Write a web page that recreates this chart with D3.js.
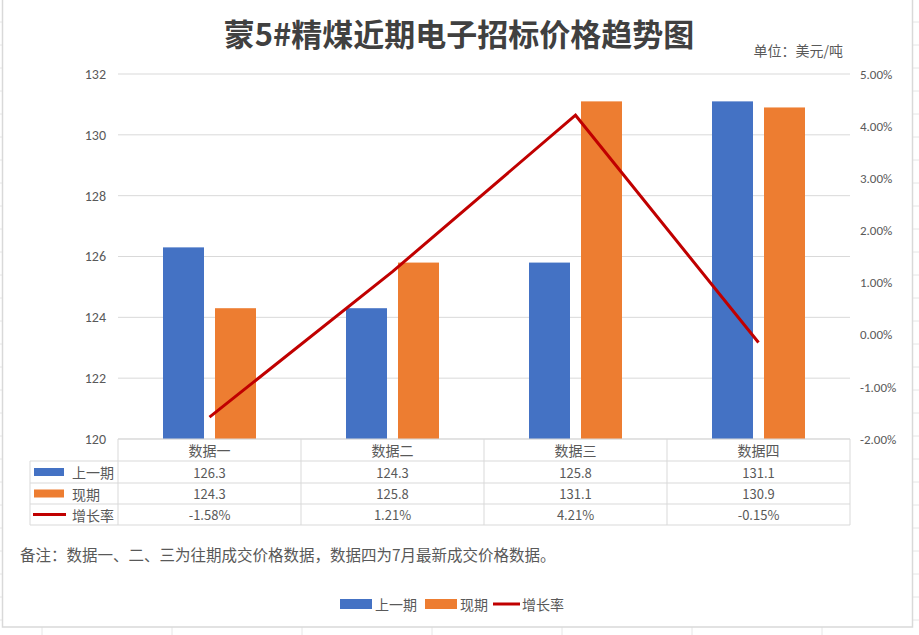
<!DOCTYPE html>
<html>
<head>
<meta charset="utf-8">
<script src="https://cdn.jsdelivr.net/npm/d3@7/dist/d3.min.js"></script>
<style>
  html, body { margin: 0; padding: 0; background: #fff; }
  svg { display: block; font-family: "Noto Sans CJK SC", "Noto Sans", sans-serif; }
</style>
</head>
<body>
<svg id="chart" width="919" height="635"></svg>
<script>
// data
const categories = ["数据一", "数据二", "数据三", "数据四"];
const prevValues = [126.3, 124.3, 125.8, 131.1];
const currValues = [124.3, 125.8, 131.1, 130.9];
const growthRates = [-1.58, 1.21, 4.21, -0.15];
const seriesNames = ["上一期", "现期", "增长率"];
const leftTicks = [120, 122, 124, 126, 128, 130, 132];
const rightTicks = [-2, -1, 0, 1, 2, 3, 4, 5];

const BLUE = "#4472c4", ORANGE = "#ed7d31", RED = "#c00000";
const TEXT = "#595959", GRID = "#d9d9d9";

const svg = d3.select("#chart");
const W = 919, H = 635;

// excel sheet grid behind the chart
const sheet = svg.append("g");
sheet.append("rect").attr("width", W).attr("height", H).attr("fill", "#fff");
for (let x = 42; x < W; x += 130) {
    sheet.append("line").attr("x1", x).attr("x2", x).attr("y1", 627).attr("y2", H)
        .attr("stroke", "#e6e6e6");
}
for (let y = 22; y < H; y += 23) {
    sheet.append("line").attr("x1", 0).attr("x2", 3).attr("y1", y).attr("y2", y).attr("stroke", "#e6e6e6");
    sheet.append("line").attr("x1", 912).attr("x2", W).attr("y1", y).attr("y2", y).attr("stroke", "#e6e6e6");
}
// chart area
svg.append("rect")
    .attr("x", 2.5).attr("y", -1).attr("width", 910).attr("height", 628)
    .attr("fill", "#fff").attr("stroke", "#d9d9d9").attr("stroke-width", 1.5);

// title
svg.append("text")
    .attr("x", 459).attr("y", 46)
    .attr("text-anchor", "middle")
    .attr("font-size", 31).attr("font-weight", "bold")
    .attr("fill", "#404040")
    .text("蒙5#精煤近期电子招标价格趋势图");

svg.append("text")
    .attr("x", 843).attr("y", 56)
    .attr("text-anchor", "end")
    .attr("font-size", 14).attr("fill", TEXT)
    .text("单位：美元/吨");

// plot area
const plot = {left: 118, right: 850, top: 74, bottom: 439};

const x = d3.scaleBand()
    .domain(categories)
    .range([plot.left, plot.right]);

const yL = d3.scaleLinear().domain([120, 132]).range([plot.bottom, plot.top]);
const yR = d3.scaleLinear().domain([-2, 5]).range([plot.bottom, plot.top]);

// gridlines
svg.append("g").selectAll("line")
    .data(leftTicks)
    .join("line")
    .attr("x1", plot.left).attr("x2", plot.right)
    .attr("y1", d => yL(d)).attr("y2", d => yL(d))
    .attr("stroke", GRID).attr("stroke-width", 1);

// left axis labels
const leftAxis = d3.axisLeft(yL).tickValues(leftTicks).tickSize(0).tickPadding(12);
const gL = svg.append("g").attr("transform", `translate(${plot.left},0)`).call(leftAxis);
gL.select(".domain").remove();
gL.selectAll("text").attr("font-size", 14).attr("fill", TEXT)
    .attr("font-family", "Calibri, Carlito, 'Liberation Sans', sans-serif");

// right axis labels
const rightAxis = d3.axisRight(yR).tickValues(rightTicks).tickSize(0).tickPadding(10)
    .tickFormat(d => d.toFixed(2) + "%");
const gR = svg.append("g").attr("transform", `translate(${plot.right},0)`).call(rightAxis);
gR.select(".domain").remove();
gR.selectAll("text").attr("font-size", 13).attr("fill", TEXT)
    .attr("font-family", "Calibri, Carlito, 'Liberation Sans', sans-serif");

// bars
const barW = 41, barGap = 11;
const bars = svg.append("g");
bars.selectAll("rect.prev")
    .data(prevValues)
    .join("rect")
    .attr("class", "prev")
    .attr("x", (d, i) => x(categories[i]) + x.bandwidth() / 2 - barGap / 2 - barW)
    .attr("y", d => yL(d))
    .attr("width", barW)
    .attr("height", d => yL(120) - yL(d))
    .attr("fill", BLUE);
bars.selectAll("rect.curr")
    .data(currValues)
    .join("rect")
    .attr("class", "curr")
    .attr("x", (d, i) => x(categories[i]) + x.bandwidth() / 2 + barGap / 2)
    .attr("y", d => yL(d))
    .attr("width", barW)
    .attr("height", d => yL(120) - yL(d))
    .attr("fill", ORANGE);

// growth line
const line = d3.line()
    .x((d, i) => x(categories[i]) + x.bandwidth() / 2)
    .y(d => yR(d));
svg.append("path")
    .datum(growthRates)
    .attr("d", line)
    .attr("fill", "none")
    .attr("stroke", RED)
    .attr("stroke-width", 3)
    .attr("stroke-linejoin", "miter");

// data table
const tableLeft = 30;
const rowY = [439, 461, 483, 504, 525];
const tbl = svg.append("g").attr("stroke", GRID).attr("stroke-width", 1);
// horizontal lines
tbl.append("line").attr("x1", plot.left).attr("x2", plot.right).attr("y1", rowY[0]).attr("y2", rowY[0]);
rowY.slice(1).forEach(y => {
    tbl.append("line").attr("x1", tableLeft).attr("x2", plot.right).attr("y1", y).attr("y2", y);
});
// vertical lines
tbl.append("line").attr("x1", tableLeft).attr("x2", tableLeft).attr("y1", rowY[1]).attr("y2", rowY[4]);
categories.forEach(c => {
    tbl.append("line").attr("x1", x(c)).attr("x2", x(c)).attr("y1", rowY[0]).attr("y2", rowY[4]);
});
tbl.append("line").attr("x1", plot.right).attr("x2", plot.right).attr("y1", rowY[0]).attr("y2", rowY[4]);

const cellText = (tx, ty, s) => svg.append("text")
    .attr("x", tx).attr("y", ty)
    .attr("text-anchor", "middle")
    .attr("dominant-baseline", "central")
    .attr("font-size", 13).attr("fill", TEXT)
    .text(s);

categories.forEach((c, i) => {
    const cx = x(c) + x.bandwidth() / 2;
    cellText(cx, (rowY[0] + rowY[1]) / 2, c).attr("font-size", 14);
    cellText(cx, (rowY[1] + rowY[2]) / 2, prevValues[i].toFixed(1));
    cellText(cx, (rowY[2] + rowY[3]) / 2, currValues[i].toFixed(1));
    cellText(cx, (rowY[3] + rowY[4]) / 2, growthRates[i].toFixed(2) + "%");
});

// legend keys in table
const keyRow = (i, name) => {
    const cy = (rowY[i + 1] + rowY[i + 2]) / 2;
    if (i < 2) {
        svg.append("rect").attr("x", 34).attr("y", cy - 4).attr("width", 30).attr("height", 8)
            .attr("fill", i === 0 ? BLUE : ORANGE);
    } else {
        svg.append("line").attr("x1", 33).attr("x2", 66).attr("y1", cy).attr("y2", cy)
            .attr("stroke", RED).attr("stroke-width", 3);
    }
    svg.append("text").attr("x", 72).attr("y", cy)
        .attr("dominant-baseline", "central")
        .attr("font-size", 14).attr("fill", TEXT).text(name);
};
seriesNames.forEach((n, i) => keyRow(i, n));

// note
svg.append("text")
    .attr("x", 20).attr("y", 561)
    .attr("font-size", 15.5).attr("fill", TEXT)
    .text("备注：数据一、二、三为往期成交价格数据，数据四为7月最新成交价格数据。");

// bottom legend
const lg = svg.append("g");
const legendItems = [
    {name: seriesNames[0], type: "rect", color: BLUE, x: 340},
    {name: seriesNames[1], type: "rect", color: ORANGE, x: 425},
    {name: seriesNames[2], type: "line", color: RED, x: 493}
];
legendItems.forEach(it => {
    if (it.type === "rect") {
        lg.append("rect").attr("x", it.x).attr("y", 599).attr("width", 32).attr("height", 10).attr("fill", it.color);
        lg.append("text").attr("x", it.x + 35).attr("y", 604).attr("dominant-baseline", "central")
            .attr("font-size", 14).attr("fill", TEXT).text(it.name);
    } else {
        lg.append("line").attr("x1", it.x).attr("x2", it.x + 27).attr("y1", 604).attr("y2", 604)
            .attr("stroke", it.color).attr("stroke-width", 3);
        lg.append("text").attr("x", it.x + 29).attr("y", 604).attr("dominant-baseline", "central")
            .attr("font-size", 14).attr("fill", TEXT).text(it.name);
    }
});
</script>
</body>
</html>
